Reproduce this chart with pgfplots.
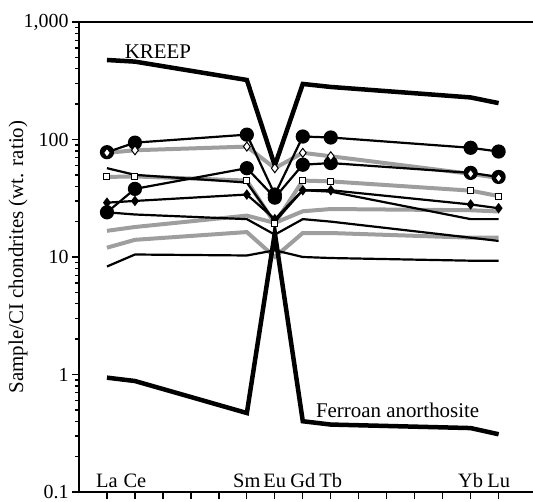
\documentclass[border=0pt]{standalone}
\usepackage{fontspec}
\setmainfont{Liberation Serif}
\usepackage{pgfplots}
\pgfplotsset{compat=1.18}
\definecolor{lgray}{gray}{0.62}
\tikzset{element/.style={anchor=base, yshift=4bp, font=\fontsize{20.5}{24}\selectfont}}

\begin{document}
\begin{tikzpicture}
\begin{axis}[
  name=ax,
  scale only axis,
  width=442bp, height=470bp,
  xmin=56, xmax=71.8,
  ymode=log, ymin=0.1, ymax=1000,
  axis lines*=left,
  axis line style={line width=2bp, -},
  xtick={57,...,71}, xticklabels={},
  ytick={0.1,1,10,100,1000},
  yticklabels={\textrm{0.1},\textrm{1},\textrm{10},\textrm{100},\textrm{1,000}},
  minor ytick={0.2,0.3,0.4,0.5,0.6,0.7,0.8,0.9,2,3,4,5,6,7,8,9,20,30,40,50,60,70,80,90,200,300,400,500,600,700,800,900},
  tick align=outside,
  major tick length=7bp, minor tick length=4bp,
  every tick/.style={black, line width=1.3bp},
  tick label style={font=\fontsize{20}{24}\selectfont},
  ylabel={Sample/CI chondrites (wt. ratio)},
  ylabel style={font=\fontsize{21}{25}\selectfont, at={(axis description cs:-0.138,0.5)}, anchor=center},
  clip=false,
]
% grey series (lines first, markers later)
\addplot[lgray, line width=4bp] coordinates {(57,77)(58,81)(62,87)(63,57)(64,77)(65,72)(70,51)(71,47)};
\addplot[lgray, line width=4bp] coordinates {(57,48)(58,48.5)(62,44.7)(63,19.3)(64,44.7)(65,44)(70,36.7)(71,33)};
\addplot[lgray, line width=4bp] coordinates {(57,16.7)(58,18)(62,22.5)(63,19.5)(64,24.5)(65,25.6)(70,25)(71,24.4)};
\addplot[lgray, line width=4bp] coordinates {(57,12)(58,14)(62,16.3)(63,10)(64,16)(65,16)(70,14.6)(71,14.6)};
% black series
\addplot[black, line width=2.2bp] coordinates {(57,57)(58,50)(62,43)(63,20)(64,37)(65,36)(70,21)(71,21)};
\addplot[black, line width=2.2bp] coordinates {(57,24)(58,23)(62,21)(63,15.5)(64,21)(65,20)(70,14.6)(71,13.7)};
\addplot[black, line width=2.2bp] coordinates {(57,8.3)(58,10.5)(62,10.3)(63,11.4)(64,10)(65,9.8)(70,9.3)(71,9.3)};
\addplot[black, line width=2.2bp, mark=diamond*, mark size=3.5bp, mark options={solid}] coordinates {(57,29)(58,30)(62,34)(63,21)(64,37)(65,37)(70,28)(71,26)};
\addplot[black, line width=2.2bp, mark=*, mark size=6bp, mark options={solid}] coordinates {(57,24)(58,38)(62,57)(63,32)(64,61)(65,63)(70,52)(71,48)};
\addplot[black, line width=2.2bp, mark=*, mark size=6bp, mark options={solid}] coordinates {(57,78)(58,94)(62,110)(63,34)(64,106)(65,104)(70,85)(71,79)};
% KREEP and ferroan anorthosite
\addplot[black, line width=4.5bp] coordinates {(57,475)(58,460)(62,321)(63,60)(64,297)(65,280)(70,228)(71,204)};
\addplot[black, line width=4.5bp] coordinates {(57,0.94)(58,0.88)(62,0.47)(63,16)(64,0.40)(65,0.375)(70,0.35)(71,0.31)};
% open markers of the grey series
\addplot[only marks, mark=diamond*, mark size=4.5bp, mark options={fill=white, draw=black, line width=1bp}] coordinates {(57,77)(58,81)(62,87)(63,57)(64,77)(65,72)(70,51)(71,47)};
\addplot[only marks, mark=square*, mark size=3bp, mark options={fill=white, draw=black, line width=1bp}] coordinates {(57,48)(58,48.5)(62,44.7)(63,19.3)(64,44.7)(65,44)(70,36.7)(71,33)};
% annotations
\node[font=\fontsize{21}{25}\selectfont] at (axis cs:58.82,556) {KREEP};
\node[font=\fontsize{21}{25}\selectfont] at (axis cs:67.39,0.497) {Ferroan anorthosite};
\node[element] at (axis cs:57,0.1) {La};
\node[element] at (axis cs:58,0.1) {Ce};
\node[element] at (axis cs:62,0.1) {Sm};
\node[element] at (axis cs:63,0.1) {Eu};
\node[element] at (axis cs:64,0.1) {Gd};
\node[element] at (axis cs:65,0.1) {Tb};
\node[element] at (axis cs:70,0.1) {Yb};
\node[element] at (axis cs:71,0.1) {Lu};
\end{axis}
% top frame line and the run of the bottom line out to the edge
\draw[line width=2bp] (ax.north west) -- ([xshift=14bp]ax.north east);
\draw[line width=2bp] (ax.south east) -- ([xshift=14bp]ax.south east);
\pgfresetboundingbox
\path[use as bounding box] ([xshift=-79bp,yshift=-10bp]ax.south west) rectangle ([xshift=12bp,yshift=22bp]ax.north east);
\end{tikzpicture}
\end{document}
